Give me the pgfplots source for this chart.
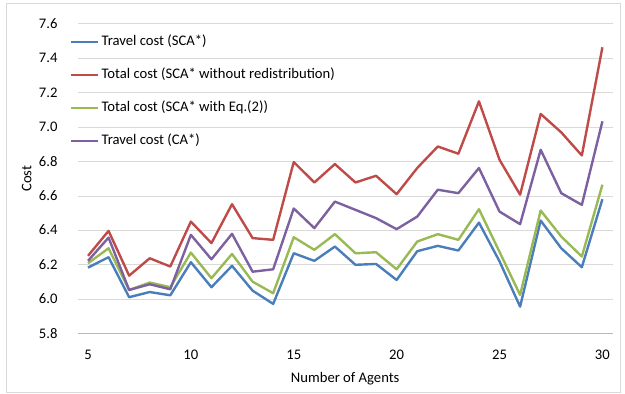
\documentclass[border=0pt]{standalone}
\usepackage{pgfplots}
\pgfplotsset{compat=1.18}
\usepackage{fontspec}
\setmainfont{Carlito}
\definecolor{sblue}{HTML}{4A7EBB}
\definecolor{sred}{HTML}{BE4B48}
\definecolor{sgreen}{HTML}{98B954}
\definecolor{spurple}{HTML}{7D60A0}
\definecolor{gridc}{HTML}{D9D9D9}
\begin{document}
\begin{tikzpicture}
\useasboundingbox (-77.7bp,-60.3bp) rectangle (547.3bp,333.7bp);
\draw[gridc, line width=0.8pt] (-71.7bp,-58.9bp) rectangle (542.3bp,330.7bp);
\begin{axis}[
  scale only axis, width=535bp, height=310bp,
  xmin=4.5, xmax=30.5, ymin=5.8, ymax=7.6,
  xtick={5,10,...,30}, ytick={5.8,6.0,...,7.6},
  axis line style={draw=none},
  ymajorgrids, grid style={gridc, line width=0.8pt},
  major tick length=0pt,
  tick label style={font=\fontsize{14.7}{18}\selectfont, text=black, inner sep=0pt},
  /pgf/number format/assume math mode=true,
  yticklabel style={/pgf/number format/fixed, /pgf/number format/fixed zerofill, /pgf/number format/precision=1, anchor=base east, xshift=-20bp, yshift=-4.6bp},
  xticklabel style={anchor=base, yshift=-26bp},
  xlabel={Number of Agents}, ylabel={Cost},
  label style={font=\fontsize{14.7}{18}\selectfont, inner sep=0pt},
  xlabel style={at={(axis description cs:0.5,0)}, anchor=base, yshift=-49bp},
  ylabel style={at={(axis description cs:-0.0953,0.5)}, anchor=center},
  legend cell align=left,
  legend style={at={(0,1)}, anchor=north west, xshift=-7.7bp, yshift=-10.5bp, draw=none, fill=none,
    font=\fontsize{14.7}{18}\selectfont, row sep=18bp, inner sep=0pt,
    nodes={inner sep=0pt, text height=11bp, text depth=4bp},
    /tikz/every odd column/.append style={column sep=2bp}},
  legend image code/.code={\draw[#1, line width=2.4pt] (0bp,0bp) -- (27bp,0bp);},
  every axis plot/.append style={line width=2.4pt, mark=none, line join=round},
]
\draw[gray!55, line width=1pt] (axis cs:4.5,5.8) -- (axis cs:30.5,5.8);
\addplot[sblue] coordinates {(5,6.184)(6,6.244)(7,6.012)(8,6.042)(9,6.023)(10,6.215)(11,6.07)(12,6.194)(13,6.05)(14,5.973)(15,6.267)(16,6.223)(17,6.306)(18,6.2)(19,6.205)(20,6.112)(21,6.279)(22,6.31)(23,6.283)(24,6.445)(25,6.22)(26,5.957)(27,6.457)(28,6.296)(29,6.186)(30,6.581)};
\addlegendentry{Travel cost (SCA*)}
\addplot[sred] coordinates {(5,6.252)(6,6.397)(7,6.137)(8,6.238)(9,6.19)(10,6.451)(11,6.326)(12,6.552)(13,6.355)(14,6.345)(15,6.797)(16,6.678)(17,6.785)(18,6.678)(19,6.717)(20,6.61)(21,6.762)(22,6.887)(23,6.845)(24,7.149)(25,6.81)(26,6.607)(27,7.076)(28,6.969)(29,6.835)(30,7.463)};
\addlegendentry{Total cost (SCA* without redistribution)}
\addplot[sgreen] coordinates {(5,6.209)(6,6.296)(7,6.054)(8,6.097)(9,6.07)(10,6.271)(11,6.122)(12,6.263)(13,6.102)(14,6.035)(15,6.36)(16,6.287)(17,6.378)(18,6.267)(19,6.273)(20,6.174)(21,6.335)(22,6.378)(23,6.345)(24,6.523)(25,6.275)(26,6.025)(27,6.515)(28,6.364)(29,6.248)(30,6.665)};
\addlegendentry{Total cost (SCA* with Eq.(2))}
\addplot[spurple] coordinates {(5,6.223)(6,6.358)(7,6.054)(8,6.087)(9,6.058)(10,6.374)(11,6.232)(12,6.38)(13,6.16)(14,6.174)(15,6.527)(16,6.413)(17,6.567)(18,6.519)(19,6.471)(20,6.407)(21,6.48)(22,6.636)(23,6.616)(24,6.762)(25,6.509)(26,6.436)(27,6.868)(28,6.616)(29,6.548)(30,7.033)};
\addlegendentry{Travel cost (CA*)}
\end{axis}
\end{tikzpicture}
\end{document}
